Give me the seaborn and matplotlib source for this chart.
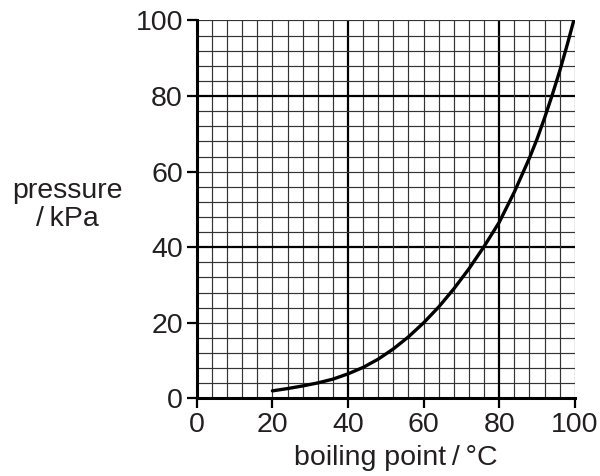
import numpy as np
import pandas as pd
import matplotlib
matplotlib.use("Agg")
import matplotlib.pyplot as plt
import seaborn as sns

# values
boiling_point = [20, 24, 28, 32, 36, 40, 44, 48, 52, 56, 60, 64, 68, 72, 76, 80,
                 84, 88, 90, 92, 94, 96, 98, 100]
pressure = [2.0, 2.6, 3.3, 4.1, 5.1, 6.5, 8.2, 10.4, 13.1, 16.3, 20.0, 24.2, 29.0, 34.3, 40.2, 46.6,
            54.6, 63.6, 68.6, 74.2, 80.2, 86.6, 93.6, 101.0]
tick_values = [0, 20, 40, 60, 80, 100]

df = pd.DataFrame({"boiling point": boiling_point, "pressure": pressure})

sns.set_style("white")
plt.rcParams["font.family"] = ["Liberation Sans", "DejaVu Sans"]
text_color = "#231f20"

fig = plt.figure(figsize=(6, 4.76), dpi=100)
ax = fig.add_axes([0.328, 0.163, 0.630, 0.794])

# graph paper grid: fine every 4, bold every 40
for v in np.arange(4, 101, 4):
    bold = v % 40 == 0
    ax.axvline(v, color="black" if bold else "#333333", lw=1.6 if bold else 0.85, zorder=1)
    ax.axhline(v, color="black" if bold else "#333333", lw=1.6 if bold else 0.85, zorder=1)

sns.lineplot(data=df, x="boiling point", y="pressure", ax=ax, color="black", lw=2.4, zorder=3)

ax.set_xlim(0, 100)
ax.set_ylim(0, 100)
ax.set_xticks(tick_values)
ax.set_yticks(tick_values)
ax.tick_params(axis="both", direction="out", length=7, width=1.6, labelsize=20.5, pad=3,
               color="black", labelcolor=text_color, bottom=True, left=True)
for s in ["top", "right"]:
    ax.spines[s].set_visible(False)
for s in ["left", "bottom"]:
    ax.spines[s].set_linewidth(2.2)
    ax.spines[s].set_color("black")

ax.set_xlabel("boiling point\u2009/\u2009°C", fontsize=20.5, color=text_color)
ax.xaxis.set_label_coords(0.527, -0.122)
ax.set_ylabel("")
fig.text(0.113, 0.57, "pressure\n/\u2009kPa", fontsize=20.5, ha="center", va="center",
         multialignment="center", linespacing=1.1, color=text_color)

fig.savefig("out.png", dpi=100)
